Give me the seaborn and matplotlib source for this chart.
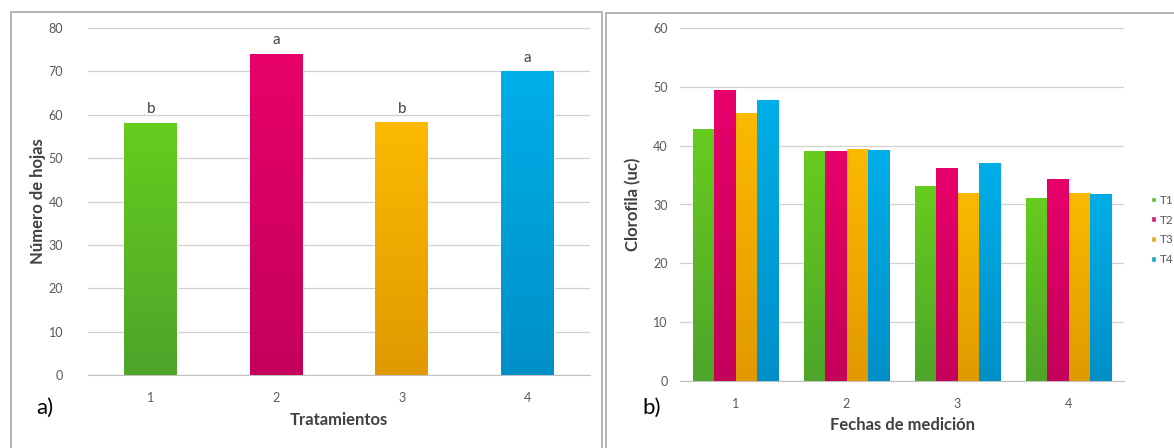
import numpy as np
import pandas as pd
import matplotlib
matplotlib.use('Agg')
import matplotlib.pyplot as plt
import matplotlib.colors as mcolors
from matplotlib.patches import Rectangle
import seaborn as sns

# datos panel a) - número de hojas por tratamiento
tratamientos = ['1', '2', '3', '4']
hojas = [58.2, 74.1, 58.3, 70.0]
letras = ['b', 'a', 'b', 'a']

# datos panel b) - clorofila por fecha de medición
fechas = ['1', '2', '3', '4']
series = ['T1', 'T2', 'T3', 'T4']
clor_T1 = [42.8, 39.1, 33.1, 31.1]
clor_T2 = [49.5, 39.1, 36.2, 34.4]
clor_T3 = [45.6, 39.4, 31.9, 31.9]
clor_T4 = [47.8, 39.3, 37.0, 31.8]

colores = ['#66cc1e', '#e8006a', '#fcb900', '#00aee8']
oscuros = ['#4ea52a', '#c4005a', '#e09a00', '#0090c8']

sns.set_style('white')
plt.rcParams['font.family'] = ['Lato', 'DejaVu Sans']

fig = plt.figure(figsize=(11.74, 4.48), dpi=100)

# marcos de los paneles
fig.patches.append(Rectangle((11/1174, -0.01), 591/1174, 1 - 12/448 + 0.01,
                             transform=fig.transFigure, fill=False,
                             edgecolor='#a6a6a6', lw=1.2))
fig.patches.append(Rectangle((606/1174, -0.01), 580/1174, 1 - 13/448 + 0.01,
                             transform=fig.transFigure, fill=False,
                             edgecolor='#a6a6a6', lw=1.2))

ax1 = fig.add_axes([88/1174, 1 - 375/448, 502/1174, 347/448])
ax2 = fig.add_axes([680/1174, 1 - 381/448, 444/1174, 353/448])


def degradado(ax, parches, tops, bottoms):
    for p, c1, c2 in zip(parches, tops, bottoms):
        x0, y0 = p.get_x(), p.get_y()
        w, h = p.get_width(), p.get_height()
        cmap = mcolors.LinearSegmentedColormap.from_list('g', [c2, c1])
        grad = np.linspace(0, 1, 64).reshape(-1, 1)
        im = ax.imshow(grad, cmap=cmap, aspect='auto', origin='lower',
                       extent=[x0, x0 + w, y0, y0 + h], zorder=3)
        im.set_clip_path(p)


# --- panel a)
df_a = pd.DataFrame({'Tratamiento': tratamientos, 'Hojas': hojas})
sns.barplot(data=df_a, x='Tratamiento', y='Hojas', hue='Tratamiento',
            palette=colores, width=0.42, legend=False, ax=ax1, zorder=2)
degradado(ax1, ax1.patches, colores, oscuros)
for i, (v, l) in enumerate(zip(hojas, letras)):
    ax1.text(i, v + 1.5, l, ha='center', va='bottom', fontsize=11, color='#404040')
ax1.set_xlim(-0.5, 3.5)
ax1.set_ylim(0, 80)
ax1.set_yticks(range(0, 81, 10))
ax1.set_xlabel('Tratamientos', fontsize=12, fontweight='bold', color='#404040', labelpad=6)
ax1.set_ylabel('Número de hojas', fontsize=12, fontweight='bold', color='#404040', labelpad=2)
ax1.tick_params(axis='y', pad=18, labelsize=9, colors='#595959', length=0)
ax1.tick_params(axis='x', pad=12, labelsize=9, colors='#595959', length=0)

# --- panel b)
df_b = pd.DataFrame({
    'Fecha': fechas * 4,
    'Serie': [s for s in series for _ in fechas],
    'Clorofila': clor_T1 + clor_T2 + clor_T3 + clor_T4,
})
sns.barplot(data=df_b, x='Fecha', y='Clorofila', hue='Serie',
            palette=colores, width=0.77, ax=ax2, zorder=2)
barras = [p for p in ax2.patches if p.get_height() > 0]
col_t = [c for c in colores for _ in fechas]
col_b = [c for c in oscuros for _ in fechas]
degradado(ax2, barras, col_t, col_b)
ax2.set_xlim(-0.5, 3.5)
ax2.set_ylim(0, 60)
ax2.set_yticks(range(0, 61, 10))
ax2.set_xlabel('Fechas de medición', fontsize=12, fontweight='bold', color='#404040', labelpad=5)
ax2.set_ylabel('Clorofila (uc)', fontsize=12, fontweight='bold', color='#404040', labelpad=8)
ax2.tick_params(axis='y', pad=9, labelsize=9, colors='#595959', length=0)
ax2.tick_params(axis='x', pad=12, labelsize=9, colors='#595959', length=0)
leg = ax2.legend(loc='center left', bbox_to_anchor=(1145/1174, 1 - 230/448),
                 bbox_transform=fig.transFigure, frameon=False, fontsize=8.5,
                 handlelength=0.4, handleheight=0.4, handletextpad=0.4,
                 labelspacing=0.75, borderpad=0)
for t in leg.get_texts():
    t.set_color('#595959')

for ax in (ax1, ax2):
    ax.grid(axis='y', color='#d0d0d0', lw=0.9)
    ax.set_axisbelow(True)
    for s in ('top', 'right', 'left'):
        ax.spines[s].set_visible(False)
    ax.spines['bottom'].set_color('#c0c0c0')

fig.text(36/1174, 1 - 408/448, 'a)', fontsize=16, va='center', ha='left', color='black')
fig.text(642/1174, 1 - 408/448, 'b)', fontsize=16, va='center', ha='left', color='black')

fig.savefig('out.png', dpi=100)
